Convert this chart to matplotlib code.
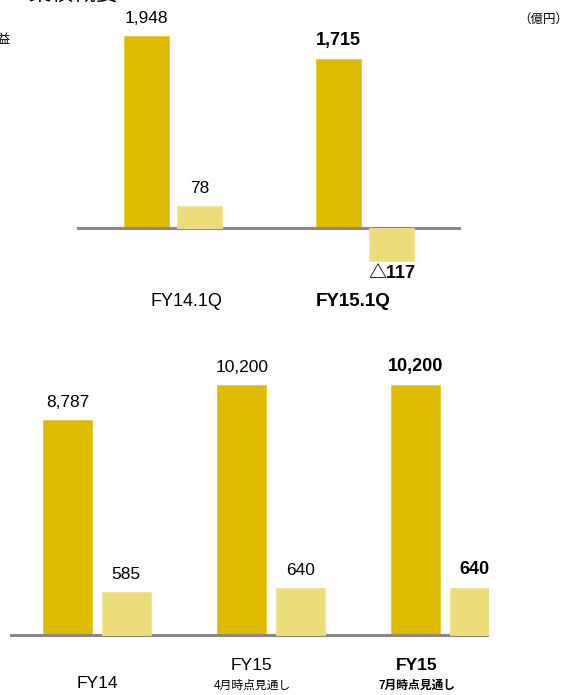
import matplotlib
matplotlib.use("Agg")
import matplotlib.pyplot as plt
from matplotlib.transforms import blended_transform_factory

plt.rcParams['font.family'] = ['Liberation Sans', 'Noto Sans CJK JP', 'DejaVu Sans']

# quarterly results (億円)
q_labels = ['FY14.1Q', 'FY15.1Q']
q_sales = [1948, 1715]
q_profit = [78, -117]
q_bold = [False, True]

# full-year results and forecasts (億円)
y_labels = ['FY14', 'FY15', 'FY15']
y_sublabels = ['', '4月時点見通し', '7月時点見通し']
y_sales = [8787, 10200, 10200]
y_profit = [585, 640, 640]
y_bold = [False, False, True]

DARK = '#dcbb00'
LIGHT = '#eddc7a'
AXIS = '#888888'

W, H = 567, 695
fig = plt.figure(figsize=(W / 100, H / 100), dpi=100)


def px_axes(x0, x1, y_top, y_bot):
    return fig.add_axes([x0 / W, 1 - y_bot / H, (x1 - x0) / W, (y_bot - y_top) / H])


def fmt(v):
    return f'{v:,}' if v >= 0 else f'△{-v:,}'


def panel(x0, x1, y_top, y_base, y_bot, xlim, width, off,
          sales, profit, s_scale, p_scale, bold):
    ax = px_axes(x0, x1, y_top, y_bot)
    ax2 = ax.twinx()
    # both series share the baseline, each with its own scale
    ax.set_ylim(-(y_bot - y_base) / s_scale, (y_base - y_top) / s_scale)
    ax2.set_ylim(-(y_bot - y_base) / p_scale, (y_base - y_top) / p_scale)
    for a in (ax, ax2):
        a.set_xlim(*xlim)
        a.axis('off')
    xs = list(range(len(sales)))
    ax.bar([x - off for x in xs], sales, width, color=DARK, edgecolor='#e6c930', lw=0.6)
    ax2.bar([x + off for x in xs], profit, width, color=LIGHT, edgecolor='#f1e395', lw=0.6)
    ax.axhline(0, color=AXIS, lw=2.2, zorder=5)
    for x, s, p, b in zip(xs, sales, profit, bold):
        w = 'bold' if b else 'normal'
        fs = 13 if b else 12.5
        ax.annotate(fmt(s), (x - off, s), xytext=(0, 7), textcoords='offset points',
                    ha='center', va='bottom', fontsize=fs, fontweight=w)
        if p >= 0:
            ax2.annotate(fmt(p), (x + off, p), xytext=(0, 7), textcoords='offset points',
                         ha='center', va='bottom', fontsize=fs, fontweight=w)
        else:
            ax2.annotate(fmt(p), (x + off, p), xytext=(0, -3), textcoords='offset points',
                         ha='center', va='top', fontsize=fs, fontweight=w)
    return ax


ax_top = panel(77, 461, 10, 228, 300, (-0.5, 1.5), 0.234, 0.14,
               q_sales, q_profit, 0.0986, 0.28, q_bold)
q_label_shift = [0.07, -0.06]
tr = blended_transform_factory(ax_top.transData, fig.transFigure)
for x, lab, b, dx in zip(range(len(q_labels)), q_labels, q_bold, q_label_shift):
    ax_top.text(x + dx, 1 - 301 / H, lab, transform=tr, ha='center', va='center',
                fontsize=13.5 if b else 13, fontweight='bold' if b else 'normal')

ax_bot = panel(10, 489, 350, 635, 695, (-0.5, 2.253), 0.28, 0.168,
               y_sales, y_profit, 0.0245, 0.0735, y_bold)
y_label_shift = [0.0, -0.11, -0.16]
tr = blended_transform_factory(ax_bot.transData, fig.transFigure)
for x, lab, sub, b, dx in zip(range(len(y_labels)), y_labels, y_sublabels, y_bold,
                              y_label_shift):
    w = 'bold' if b else 'normal'
    if sub:
        ax_bot.text(x + dx, 1 - 666 / H, lab, transform=tr, ha='center', va='center',
                    fontsize=12.5, fontweight=w)
        ax_bot.text(x + dx, 1 - 686 / H, sub, transform=tr, ha='center', va='center',
                    fontsize=8.5, fontweight=w)
    else:
        ax_bot.text(x + dx, 1 - 684 / H, lab, transform=tr, ha='center', va='center',
                    fontsize=12.5, fontweight=w)

fig.text(543 / W, 1 - 20 / H, '（億円）', ha='center', va='center', fontsize=9)
fig.text(11 / W, 1 - 40 / H, '営業利益', ha='right', va='center', fontsize=9)
fig.text(-2 / W, 1 - 5 / H, '1.  業績概要', ha='left', va='bottom', fontsize=16)

fig.savefig('out.png', dpi=100)
